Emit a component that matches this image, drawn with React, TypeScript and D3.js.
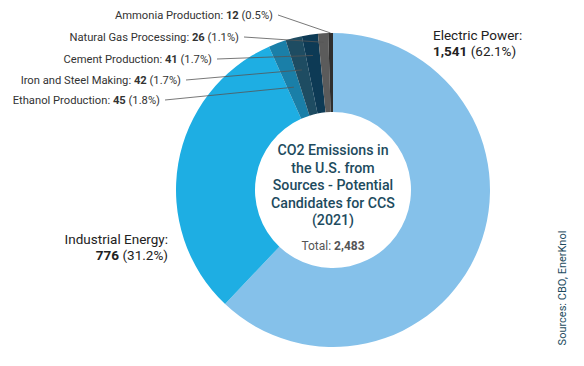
import React from "react";
import * as d3 from "d3";

const categories = [
  "Electric Power",
  "Industrial Energy",
  "Ethanol Production",
  "Iron and Steel Making",
  "Cement Production",
  "Natural Gas Processing",
  "Ammonia Production",
];
const values = [1541, 776, 45, 42, 41, 26, 12];
const percents = ["62.1%", "31.2%", "1.8%", "1.7%", "1.7%", "1.1%", "0.5%"];
const colors = ["#85c1ea", "#1eaee3", "#1a7fa8", "#1e4c62", "#0d3a55", "#5b5b5b", "#2f2f2f"];
const titleLines = ["CO2 Emissions in", "the U.S. from", "Sources - Potential", "Candidates for CCS", "(2021)"];
const totalLabel = "2,483";
const sourceText = "Sources: CBO, EnerKnol";

const W = 584;
const H = 366;
const cx = 333;
const cy = 190;
const outerR = 157;
const innerR = 78;
const FONT = "Roboto, 'Noto Sans', sans-serif";

// small-slice label layout (index 2..6)
const smallLabelX = [160, 181, 212, 239, 273];
const smallLabelY = [104, 84, 63, 41, 19];
const leaderR = [110, 124, 136, 148, 157];

const fmt = d3.format(",");

export default function App() {
  const pie = d3.pie<number>().sort(null).value((d) => d);
  const arcs = pie(values);
  const arc = d3.arc<d3.PieArcDatum<number>>().innerRadius(innerR).outerRadius(outerR);

  const pt = (angle: number, r: number) => [cx + r * Math.sin(angle), cy - r * Math.cos(angle)];

  return (
    <svg width={W} height={H} style={{ position: "absolute", left: 0, top: 0, fontFamily: FONT }}>
      <rect width={W} height={H} fill="#fff" />
      <g transform={`translate(${cx},${cy})`}>
        {arcs.map((a, i) => (
          <path key={i} d={arc(a) || ""} fill={colors[i]} />
        ))}
      </g>
      {arcs.slice(2).map((a, j) => {
        const i = j + 2;
        const mid = (a.startAngle + a.endAngle) / 2;
        const [ex, ey] = pt(mid, leaderR[j]);
        const lx = smallLabelX[j];
        const ly = smallLabelY[j];
        return (
          <g key={i}>
            <line x1={lx + 5} y1={ly - 4} x2={ex} y2={ey} stroke="#555" strokeWidth={0.8} />
            <text x={lx} y={ly} textAnchor="end" fontSize={11.2} fill="#333">
              {categories[i]}: <tspan fontWeight="bold">{fmt(values[i])}</tspan> ({percents[i]})
            </text>
          </g>
        );
      })}
      <text x={433} y={40} fontSize={13.5} fill="#222">
        {categories[0]}:
      </text>
      <text x={433} y={56} fontSize={13.5} fill="#222">
        <tspan fontWeight="bold">{fmt(values[0])}</tspan> ({percents[0]})
      </text>
      <text x={168} y={244} fontSize={13.5} fill="#222" textAnchor="end">
        {categories[1]}:
      </text>
      <text x={168} y={260} fontSize={13.5} fill="#222" textAnchor="end">
        <tspan fontWeight="bold">{fmt(values[1])}</tspan> ({percents[1]})
      </text>
      {titleLines.map((t, i) => (
        <text key={i} x={cx} y={155 + i * 17.5} textAnchor="middle" fontSize={14.2} fontWeight={500} fill="#1d4b5e">
          {t}
        </text>
      ))}
      <text x={cx} y={250} textAnchor="middle" fontSize={12} fill="#555">
        Total: <tspan fontWeight="bold">{totalLabel}</tspan>
      </text>
      <text
        transform={`translate(566,288) rotate(-90)`}
        textAnchor="middle"
        fontSize={11}
        fill="#1d4b5e"
      >
        {sourceText}
      </text>
    </svg>
  );
}
